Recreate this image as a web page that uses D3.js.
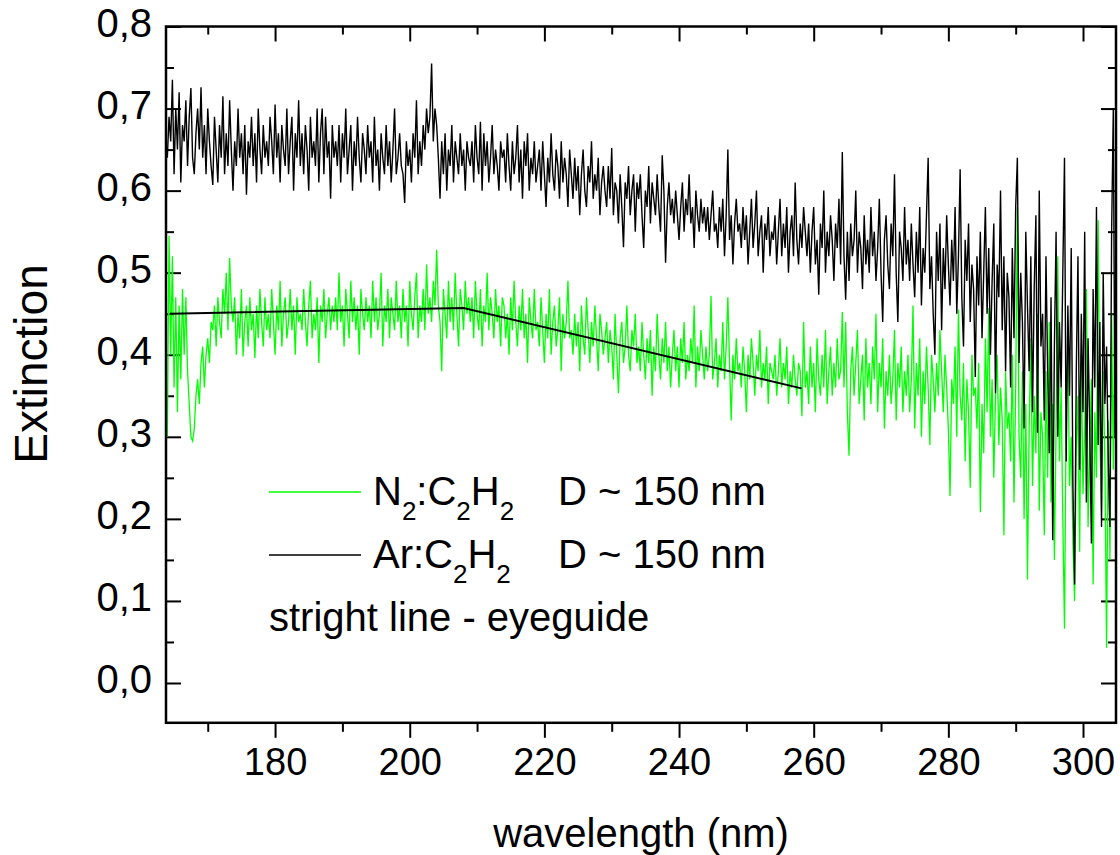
<!DOCTYPE html>
<html>
<head>
<meta charset="utf-8">
<script src="https://cdn.jsdelivr.net/npm/d3@7"></script>
<style>
  body { margin: 0; background: #fff; }
  svg { display: block; }
</style>
</head>
<body>
<div id="chart"></div>
<script>
// Extinction spectra, N2:C2H2 vs Ar:C2H2 particles

// wavelength grid of both spectra (nm)
let wlStart = 164, wlStep = 0.25;

// Ar:C2H2, D ~ 150 nm (black)
let arValues = [
  .64,.69,.66,.735,.62,.70,.65,.72,.61,.68,.66,.71,.63,.69,.725,.64,.62,.67,.70,.65,
  .726,.64,.68,.62,.70,.66,.63,.607,.69,.65,.61,.68,.64,.715,.62,.67,.63,.71,.65,.60,
  .66,.63,.70,.64,.67,.62,.68,.595,.66,.64,.69,.63,.67,.61,.70,.65,.62,.68,.64,.66,
  .63,.69,.66,.62,.705,.64,.67,.61,.68,.65,.63,.70,.62,.66,.69,.60,.67,.64,.71,.63,
  .67,.62,.68,.65,.60,.69,.64,.66,.63,.70,.61,.67,.70,.62,.69,.64,.66,.59,.68,.64,
  .66,.63,.68,.61,.67,.64,.70,.62,.65,.68,.60,.66,.63,.69,.64,.61,.67,.65,.62,.68,
  .64,.66,.61,.69,.63,.65,.60,.67,.64,.62,.68,.63,.66,.61,.65,.70,.62,.64,.67,.63,
  .62,.585,.66,.63,.65,.61,.67,.64,.71,.62,.66,.63,.68,.65,.70,.67,.69,.755,.66,.70,
  .68,.64,.59,.66,.62,.67,.60,.65,.63,.68,.61,.66,.64,.62,.67,.63,.65,.60,.66,.64,
  .63,.66,.61,.68,.64,.62,.684,.60,.67,.63,.66,.61,.64,.68,.62,.65,.63,.60,.66,.64,
  .65,.61,.67,.63,.60,.66,.62,.64,.68,.61,.65,.59,.66,.63,.67,.60,.64,.62,.66,.61,
  .63,.65,.60,.66,.62,.58,.64,.61,.67,.62,.60,.65,.63,.59,.66,.61,.64,.62,.58,.65,
  .62,.59,.64,.60,.63,.57,.62,.65,.60,.58,.63,.61,.66,.59,.62,.60,.64,.57,.61,.63,
  .60,.58,.63,.59,.652,.57,.61,.60,.56,.62,.58,.531,.61,.59,.63,.57,.60,.62,.55,.61,
  .59,.62,.57,.53,.60,.58,.63,.56,.61,.59,.57,.62,.58,.55,.643,.60,.512,.58,.61,.57,
  .59,.56,.60,.57,.54,.58,.61,.55,.59,.57,.62,.56,.58,.53,.60,.57,.55,.59,.56,.58,
  .55,.58,.54,.57,.60,.55,.56,.53,.58,.55,.59,.52,.57,.65,.54,.57,.51,.56,.59,.55,
  .56,.53,.58,.54,.57,.51,.55,.59,.53,.56,.60,.52,.55,.57,.50,.56,.54,.58,.52,.55,
  .54,.57,.51,.55,.59,.52,.56,.53,.58,.50,.55,.57,.52,.61,.54,.51,.56,.53,.58,.55,
  .52,.56,.50,.55,.58,.51,.54,.473,.56,.53,.60,.50,.55,.52,.57,.54,.49,.56,.53,.59,
  .51,.647,.52,.467,.55,.49,.56,.52,.54,.60,.50,.55,.53,.48,.57,.51,.54,.50,.58,.52,
  .55,.49,.53,.59,.50,.44,.54,.57,.51,.48,.56,.52,.62,.50,.44,.55,.53,.49,.58,.51,
  .54,.49,.56,.51,.47,.55,.50,.58,.46,.53,.50,.57,.64,.48,.52,.45,.40,.55,.49,.56,
  .43,.53,.48,.57,.51,.46,.54,.49,.58,.45,.52,.626,.47,.41,.54,.49,.56,.44,.51,.48,
  .373,.52,.46,.55,.42,.50,.58,.45,.53,.40,.49,.56,.353,.51,.47,.60,.43,.52,.38,.50,
  .47,.36,.53,.42,.58,.64,.39,.50,.44,.31,.55,.46,.38,.52,.33,.48,.57,.305,.60,.41,
  .45,.32,.52,.38,.28,.47,.174,.41,.55,.30,.44,.36,.50,.64,.27,.46,.35,.53,.24,.12,
  .38,.52,.26,.45,.33,.55,.22,.42,.31,.17,.48,.36,.58,.29,.44,.19,.50,.34,.41,.27,
  .19,.55,.70,.30,.45
];

// N2:C2H2, D ~ 150 nm (green)
let n2Values = [
  .30,.545,.40,.52,.36,.47,.33,.46,.37,.48,.40,.47,.38,.34,.30,.295,.31,.35,.37,.34,
  .39,.41,.36,.40,.42,.39,.44,.43,.46,.41,.47,.44,.42,.48,.45,.50,.43,.518,.46,.44,
  .47,.40,.45,.42,.48,.398,.44,.46,.41,.47,.43,.45,.396,.46,.42,.48,.44,.41,.47,.43,
  .45,.42,.48,.44,.40,.46,.43,.49,.41,.45,.47,.42,.44,.48,.43,.46,.40,.47,.44,.45,
  .43,.48,.44,.41,.46,.49,.42,.45,.43,.47,.39,.46,.44,.48,.42,.45,.47,.43,.46,.44,
  .47,.43,.50,.44,.46,.41,.48,.45,.42,.49,.44,.47,.43,.46,.40,.48,.45,.43,.47,.44,
  .46,.42,.49,.44,.47,.43,.45,.50,.41,.46,.44,.48,.42,.47,.45,.43,.49,.44,.46,.42,
  .48,.44,.46,.41,.49,.45,.43,.47,.50,.42,.46,.44,.48,.43,.51,.45,.47,.44,.49,.46,
  .528,.46,.44,.38,.48,.45,.42,.49,.44,.47,.43,.50,.45,.41,.48,.46,.43,.49,.45,.47,
  .44,.47,.42,.49,.45,.43,.48,.41,.46,.44,.50,.43,.47,.45,.42,.48,.44,.46,.41,.47,
  .46,.42,.45,.40,.47,.43,.49,.44,.41,.46,.43,.48,.42,.45,.39,.47,.44,.42,.48,.43,
  .44,.41,.47,.43,.39,.45,.42,.48,.40,.44,.46,.41,.43,.47,.38,.45,.42,.44,.49,.42,
  .43,.40,.45,.41,.44,.38,.46,.42,.40,.47,.43,.39,.44,.41,.46,.42,.38,.45,.43,.40,
  .42,.44,.39,.43,.41,.37,.45,.40,.353,.42,.44,.39,.41,.46,.40,.38,.43,.41,.45,.39,
  .41,.38,.44,.40,.37,.42,.39,.43,.35,.41,.38,.45,.40,.37,.42,.39,.44,.38,.41,.36,
  .40,.43,.38,.41,.36,.42,.39,.44,.37,.40,.38,.42,.39,.46,.36,.41,.38,.43,.40,.37,
  .41,.38,.40,.472,.37,.39,.42,.36,.40,.38,.44,.37,.41,.47,.39,.32,.40,.37,.42,.38,
  .39,.36,.41,.38,.33,.40,.37,.42,.39,.35,.40,.38,.43,.36,.39,.37,.41,.34,.39,.38,
  .37,.40,.35,.38,.42,.36,.39,.37,.41,.34,.38,.36,.40,.37,.35,.39,.38,.325,.44,.36,
  .38,.34,.41,.36,.39,.33,.42,.37,.35,.40,.36,.43,.34,.38,.41,.35,.39,.36,.42,.37,
  .38,.452,.36,.44,.33,.277,.38,.41,.35,.39,.43,.34,.37,.40,.32,.42,.36,.39,.34,.41,
  .37,.45,.33,.39,.36,.42,.31,.38,.35,.40,.34,.37,.43,.32,.39,.36,.41,.33,.38,.35,
  .40,.33,.37,.46,.31,.39,.35,.42,.30,.38,.34,.41,.36,.29,.40,.37,.33,.39,.35,.43,
  .38,.33,.40,.36,.31,.228,.37,.34,.41,.30,.455,.35,.32,.39,.27,.37,.33,.238,.40,.35,
  .36,.31,.39,.208,.34,.28,.42,.33,.457,.30,.37,.25,.35,.40,.29,.36,.32,.18,.38,.31,
  .33,.27,.40,.22,.36,.58,.30,.25,.38,.20,.34,.126,.31,.42,.24,.35,.28,.45,.21,.33,
  .30,.18,.38,.25,.44,.22,.34,.15,.31,.52,.27,.36,.20,.066,.33,.41,.24,.30,.17,.10,
  .28,.35,.16,.40,.23,.31,.48,.19,.29,.37,.12,.33,.25,.564,.30,.21,.38,.27,.043,.32,
  .15,.45,.26,.50,.026
];

// straight eyeguide line: [wavelength, extinction]
let eyeguide = [[164.4, 0.450], [208, 0.457], [258.2, 0.359]];

// ticks
let xMajor = [180, 200, 220, 240, 260, 280, 300];
let xMinor = [170, 190, 210, 230, 250, 270, 290];
let yMajor = [0, 0.1, 0.2, 0.3, 0.4, 0.5, 0.6, 0.7, 0.8];
let yMinor = [0.05, 0.15, 0.25, 0.35, 0.45, 0.55, 0.65, 0.75];

// legend
let legendRows = [
  { name: ["N", "2", ":C", "2", "H", "2"], size: "D ~ 150 nm", color: "#00ff00" },
  { name: ["Ar:C", "2", "H", "2"], size: "D ~ 150 nm", color: "#000000" }
];
let legendNote = "stright line - eyeguide";

// THE CHART
let W = 1120, H = 855;
let pLeft = 166, pRight = 1116, pTop = 26.5, pBottom = 722.8;
let font = "Arial, 'Liberation Sans', Helvetica, sans-serif";

let svg = d3.select("#chart").append("svg")
    .attr("width", W)
    .attr("height", H)
    .style("font-family", font);

svg.append("rect").attr("width", W).attr("height", H).attr("fill", "#fff");

let x = d3.scaleLinear().domain([163.8, 304.9]).range([pLeft, pRight]);
let y = d3.scaleLinear().domain([-0.0485, 0.8]).range([pBottom, pTop]);

let comma = d3.formatLocale({ decimal: ",", thousands: ".", grouping: [3], currency: ["", ""] }).format(".1f");

function styleAxis(g) {
    g.attr("font-family", font);
    g.select(".domain").remove();
    g.selectAll(".tick line").attr("stroke", "#000").attr("stroke-width", 2);
}

// bottom axis, ticks outward
svg.append("g")
    .attr("transform", "translate(0," + pBottom + ")")
    .call(d3.axisBottom(x).tickValues(xMajor).tickSize(15).tickPadding(10).tickSizeOuter(0))
    .call(styleAxis)
    .selectAll("text").attr("font-size", 38).attr("fill", "#000");
svg.append("g")
    .attr("transform", "translate(0," + pBottom + ")")
    .call(d3.axisBottom(x).tickValues(xMinor).tickSize(9).tickFormat("").tickSizeOuter(0))
    .call(styleAxis);

// top axis, ticks inward
svg.append("g")
    .attr("transform", "translate(0," + pTop + ")")
    .call(d3.axisTop(x).tickValues(xMajor).tickSize(-15).tickFormat("").tickSizeOuter(0))
    .call(styleAxis);
svg.append("g")
    .attr("transform", "translate(0," + pTop + ")")
    .call(d3.axisTop(x).tickValues(xMinor).tickSize(-8).tickFormat("").tickSizeOuter(0))
    .call(styleAxis);

// left axis, ticks inward
svg.append("g")
    .attr("transform", "translate(" + pLeft + ",0)")
    .call(d3.axisLeft(y).tickValues(yMajor).tickFormat(comma).tickSize(-15).tickPadding(14).tickSizeOuter(0))
    .call(styleAxis)
    .selectAll("text").attr("font-size", 40).attr("fill", "#000").attr("dy", "0.25em");
svg.append("g")
    .attr("transform", "translate(" + pLeft + ",0)")
    .call(d3.axisLeft(y).tickValues(yMinor).tickSize(-8).tickFormat("").tickSizeOuter(0))
    .call(styleAxis);

// right axis, ticks inward
svg.append("g")
    .attr("transform", "translate(" + pRight + ",0)")
    .call(d3.axisRight(y).tickValues(yMajor).tickSize(-15).tickFormat("").tickSizeOuter(0))
    .call(styleAxis);
svg.append("g")
    .attr("transform", "translate(" + pRight + ",0)")
    .call(d3.axisRight(y).tickValues(yMinor).tickSize(-8).tickFormat("").tickSizeOuter(0))
    .call(styleAxis);

// clip the spectra to the frame
svg.append("clipPath").attr("id", "plotArea")
    .append("rect")
    .attr("x", pLeft).attr("y", pTop)
    .attr("width", pRight - pLeft).attr("height", pBottom - pTop);

let spectrum = d3.line()
    .x(function (d, i) { return x(wlStart + i * wlStep); })
    .y(function (d) { return y(d); });

let plot = svg.append("g").attr("clip-path", "url(#plotArea)");

plot.append("path")
    .attr("d", spectrum(n2Values))
    .attr("fill", "none")
    .attr("stroke", "#00ff00")
    .attr("stroke-width", 1.3);

plot.append("path")
    .attr("d", spectrum(arValues))
    .attr("fill", "none")
    .attr("stroke", "#000")
    .attr("stroke-width", 1.4);

plot.append("path")
    .attr("d", d3.line().x(function (d) { return x(d[0]); }).y(function (d) { return y(d[1]); })(eyeguide))
    .attr("fill", "none")
    .attr("stroke", "#000")
    .attr("stroke-width", 2);

// frame
svg.append("rect")
    .attr("x", pLeft).attr("y", pTop)
    .attr("width", pRight - pLeft).attr("height", pBottom - pTop)
    .attr("fill", "none")
    .attr("stroke", "#000")
    .attr("stroke-width", 2.5);

// axis titles
svg.append("text")
    .attr("x", (pLeft + pRight) / 2)
    .attr("y", 847)
    .attr("text-anchor", "middle")
    .attr("font-size", 40)
    .text("wavelength (nm)");

svg.append("text")
    .attr("transform", "translate(47,364) rotate(-90)")
    .attr("text-anchor", "middle")
    .attr("font-size", 46)
    .text("Extinction");

// legend
let legend = svg.append("g").attr("font-size", 40).attr("fill", "#000");
legendRows.forEach(function (row, i) {
    let base = 505 + i * 63;
    legend.append("line")
        .attr("x1", 269).attr("x2", 361)
        .attr("y1", base - 13).attr("y2", base - 13)
        .attr("stroke", row.color)
        .attr("stroke-width", 1.5);
    let t = legend.append("text").attr("x", 373).attr("y", base);
    row.name.forEach(function (part, j) {
        let sub = (part === "2");
        t.append("tspan")
            .attr("font-size", sub ? 26 : 40)
            .attr("dy", j === 0 ? 0 : (sub ? 15 : -15))
            .text(part);
    });
    legend.append("text").attr("x", 558).attr("y", base).text(row.size);
});
legend.append("text").attr("x", 269).attr("y", 631).text(legendNote);
</script>
</body>
</html>
